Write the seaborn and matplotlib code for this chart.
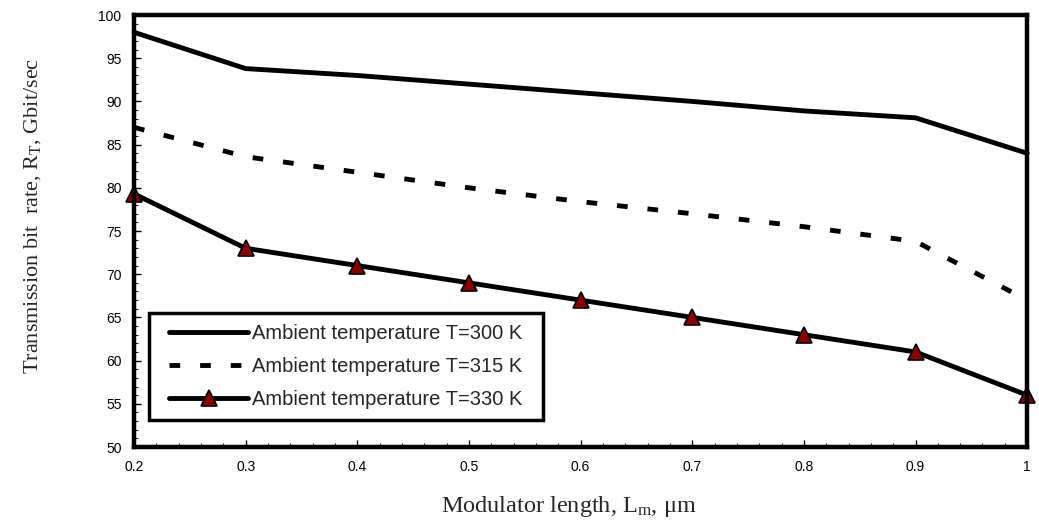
import matplotlib
matplotlib.use("Agg")
import matplotlib.pyplot as plt
import seaborn as sns
import pandas as pd
from matplotlib.ticker import MultipleLocator

length_um = [0.2, 0.3, 0.4, 0.5, 0.6, 0.7, 0.8, 0.9, 1.0]
rate_300K = [98.0, 93.8, 93.0, 92.0, 91.0, 90.0, 88.9, 88.1, 84.0]
rate_315K = [87.0, 83.6, 81.8, 80.0, 78.4, 77.0, 75.5, 73.8, 67.0]
rate_330K = [79.3, 73.0, 71.0, 69.0, 67.0, 65.0, 63.0, 61.0, 56.0]
labels = ["Ambient temperature T=300 K",
          "Ambient temperature T=315 K",
          "Ambient temperature T=330 K"]
x_ticks = [0.2, 0.3, 0.4, 0.5, 0.6, 0.7, 0.8, 0.9, 1.0]
x_tick_labels = ["0.2", "0.3", "0.4", "0.5", "0.6", "0.7", "0.8", "0.9", "1"]
y_ticks = [50, 55, 60, 65, 70, 75, 80, 85, 90, 95, 100]

sns.set_theme(style="white")
plt.rcParams['font.family'] = ['Liberation Sans', 'DejaVu Sans']
plt.rcParams['mathtext.fontset'] = 'custom'
plt.rcParams['mathtext.rm'] = 'Liberation Serif'
plt.rcParams['mathtext.it'] = 'Liberation Serif:italic'
plt.rcParams['mathtext.bf'] = 'Liberation Serif:bold'

fig = plt.figure(figsize=(10.39, 5.23), dpi=100)
ax = fig.add_axes([0.129, 0.1453, 0.8596, 0.826])

df = pd.DataFrame({"x": length_um, "a": rate_300K, "b": rate_315K, "c": rate_330K})

LW = 3.5
sns.lineplot(data=df, x="x", y="a", ax=ax, color="black", lw=LW, label=labels[0])
sns.lineplot(data=df, x="x", y="b", ax=ax, color="black", lw=LW, label=labels[1])
ax.lines[-1].set_dashes([2.2, 4.1])
ax.lines[-1].set_dash_capstyle("butt")
sns.lineplot(data=df, x="x", y="c", ax=ax, color="black", lw=LW, label=labels[2],
             marker="^", markersize=12, markerfacecolor="#8B0000",
             markeredgecolor="black", markeredgewidth=1.2)
for ln in ax.lines:
    ln.set_clip_on(False)

ax.set_xlim(0.2, 1.0)
ax.set_ylim(50, 100)
ax.set_xticks(x_ticks)
ax.set_xticklabels(x_tick_labels)
ax.set_yticks(y_ticks)
ax.xaxis.set_minor_locator(MultipleLocator(0.02))
ax.yaxis.set_minor_locator(MultipleLocator(1))
ax.tick_params(axis="both", which="major", direction="in", length=5, width=1,
               labelsize=10, colors="black", pad=9, bottom=True, left=True)
ax.tick_params(axis="both", which="minor", direction="in", length=3, width=0.8,
               bottom=True, left=True)
for s in ax.spines.values():
    s.set_linewidth(3.2)
    s.set_color("black")

ax.set_xlabel("Modulator length, L$_\\mathrm{m}$, μm", family="Liberation Serif",
              fontsize=17.5)
ax.xaxis.set_label_coords(0.487, -0.108)
ax.set_ylabel("Transmission bit  rate, R$_\\mathrm{T}$, Gbit/sec", family="Liberation Serif",
              fontsize=16)
ax.yaxis.set_label_coords(-0.1015, 0.535)

leg = ax.legend(loc="lower left", bbox_to_anchor=(0.0269, 0.0625), fontsize=14.5,
                handlelength=3.9, handletextpad=0.2, borderpad=0.56,
                labelspacing=0.68, borderaxespad=0, fancybox=False, framealpha=1)
frame = leg.get_frame()
frame.set_edgecolor("black")
frame.set_linewidth(2.5)
frame.set_boxstyle("square", pad=0.45)
frame.set_mutation_aspect(0.001)

fig.savefig("out.png", dpi=100)
